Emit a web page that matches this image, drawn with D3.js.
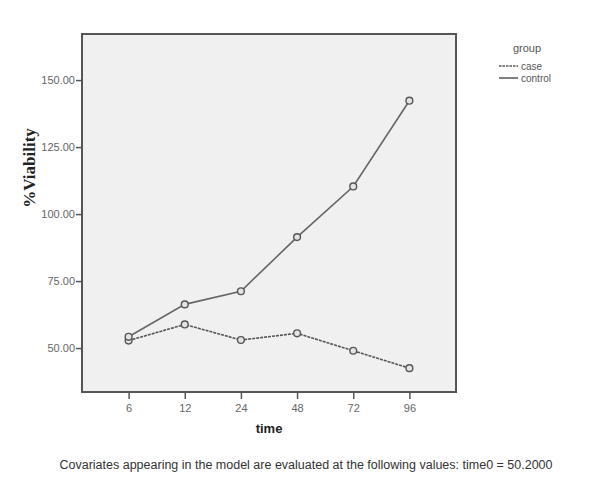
<!DOCTYPE html>
<html><head><meta charset="utf-8">
<script src="https://cdn.jsdelivr.net/npm/d3@7"></script>
<style>body{margin:0;background:#fff}</style>
</head><body>
<svg id="c" width="608" height="488"></svg>
<script>
const categories = ["6","12","24","48","72","96"];
const caseValues = [52.8, 58.8, 53.0, 55.5, 49.0, 42.5];
const controlValues = [54.2, 66.3, 71.2, 91.4, 110.3, 142.3];
const yTicks = [50, 75, 100, 125, 150];
const seriesNames = ["case", "control"];

const svg = d3.select("#c");
const L = 82, R = 456, T = 34, B = 392;
const x = d3.scalePoint().domain(categories).range([L, R]).padding(0.83);
const y = d3.scaleLinear().domain([33.6, 167.2]).range([B, T]);

svg.append("rect").attr("x", L).attr("y", T).attr("width", R - L).attr("height", B - T)
  .attr("fill", "#f0f0f0").attr("stroke", "#555").attr("stroke-width", 2);

const yAxis = svg.append("g").attr("transform", `translate(${L-1},0)`)
  .call(d3.axisLeft(y).tickValues(yTicks).tickFormat(d3.format(".2f")).tickSize(5).tickPadding(1));
const xAxis = svg.append("g").attr("transform", `translate(0,${B+1})`)
  .call(d3.axisBottom(x).tickSize(6).tickPadding(5));
[yAxis, xAxis].forEach(g => {
  g.select(".domain").remove();
  g.selectAll("line").attr("stroke", "#555").attr("stroke-width", 1.5);
  g.selectAll("text").attr("fill", "#666").style("font-family", "Liberation Sans, Arial, sans-serif").style("font-size", "11px");
});

const line = d3.line().x((d, i) => x(categories[i])).y(d => y(d));
const data = [{name: "case", vals: caseValues, dash: "3,1", color: "#555"}, {name: "control", vals: controlValues, dash: null, color: "#666"}];
data.forEach(s => {
  svg.append("path").attr("d", line(s.vals)).attr("fill", "none")
    .attr("stroke", s.color).attr("stroke-width", 1.6)
    .attr("stroke-dasharray", s.dash);
});
data.forEach(s => {
  svg.append("g").selectAll("circle").data(s.vals).join("circle")
    .attr("cx", (d, i) => x(categories[i])).attr("cy", d => y(d)).attr("r", 3.4)
    .attr("fill", "#e4e4e4").attr("stroke", "#555").attr("stroke-width", 1.4);
});

svg.append("text").attr("x", (x("24") + x("48")) / 2).attr("y", 433).attr("text-anchor", "middle")
  .style("font-family", "Liberation Sans, Arial, sans-serif").style("font-weight", "bold").style("font-size", "13px")
  .attr("fill", "#222").text("time");
svg.append("text").attr("transform", `translate(35,168) rotate(-90)`).attr("text-anchor", "middle")
  .style("font-family", "Liberation Serif, Times New Roman, serif").style("font-weight", "bold").style("font-size", "17px")
  .attr("fill", "#222").text("%Viability");

const lg = svg.append("g").style("font-family", "Liberation Sans, Arial, sans-serif").attr("fill", "#555");
lg.append("text").attr("x", 527).attr("y", 52).attr("text-anchor", "middle").style("font-size", "11px").text("group");
seriesNames.forEach((n, i) => {
  const yy = 66 + i * 12;
  lg.append("line").attr("x1", 499).attr("x2", 518).attr("y1", yy).attr("y2", yy)
    .attr("stroke", "#555").attr("stroke-width", 1.5).attr("stroke-dasharray", i === 0 ? "2.5,1" : null);
  lg.append("text").attr("x", 521).attr("y", yy + 3.5).style("font-size", "10px").text(n);
});

svg.append("text").attr("x", 306).attr("y", 469).attr("text-anchor", "middle")
  .style("font-family", "Liberation Sans, Arial, sans-serif").style("font-size", "12.5px").attr("fill", "#333")
  .text("Covariates appearing in the model are evaluated at the following values: time0 = 50.2000");
</script>
</body></html>
